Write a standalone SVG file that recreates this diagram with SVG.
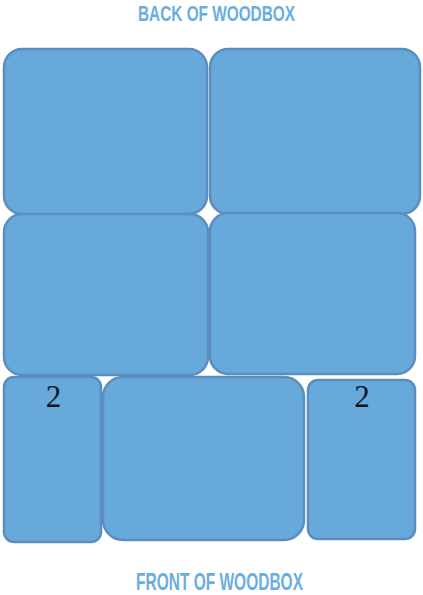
<svg xmlns="http://www.w3.org/2000/svg" width="423" height="595" viewBox="0 0 423 595">
<style>
.box{fill:#68a9db;stroke:#5b8ebd;stroke-width:2.5}
.title{font-family:"Liberation Sans",Arial,sans-serif;font-weight:bold;fill:#6aaee0}
.num{font-family:"Liberation Serif","Times New Roman",serif;font-size:31px;fill:#0d1620;text-anchor:middle}
</style>
<rect width="423" height="595" fill="#ffffff"/>
<text class="title" x="138" y="21" font-size="22" textLength="157" lengthAdjust="spacingAndGlyphs">BACK OF WOODBOX</text>
<g id="box-top-left"><rect class="box" x="4" y="49" width="203" height="165" rx="18"/></g>
<g id="box-top-right"><rect class="box" x="210" y="49" width="210" height="165" rx="18"/></g>
<g id="box-mid-left"><rect class="box" x="4" y="214" width="204" height="161" rx="18"/></g>
<g id="box-mid-right"><rect class="box" x="210" y="213" width="205" height="161" rx="18"/></g>
<g id="box-bot-left"><rect class="box" x="4" y="377" width="97" height="165" rx="10"/><text class="num" x="53.5" y="407">2</text></g>
<g id="box-bot-mid"><rect class="box" x="103" y="377" width="201" height="163" rx="20"/></g>
<g id="box-bot-right"><rect class="box" x="308" y="380" width="107" height="159" rx="10"/><text class="num" x="362" y="407">2</text></g>
<g id="connectors"></g>
<text class="title" x="136" y="590" font-size="23" textLength="167" lengthAdjust="spacingAndGlyphs">FRONT OF WOODBOX</text>
</svg>
